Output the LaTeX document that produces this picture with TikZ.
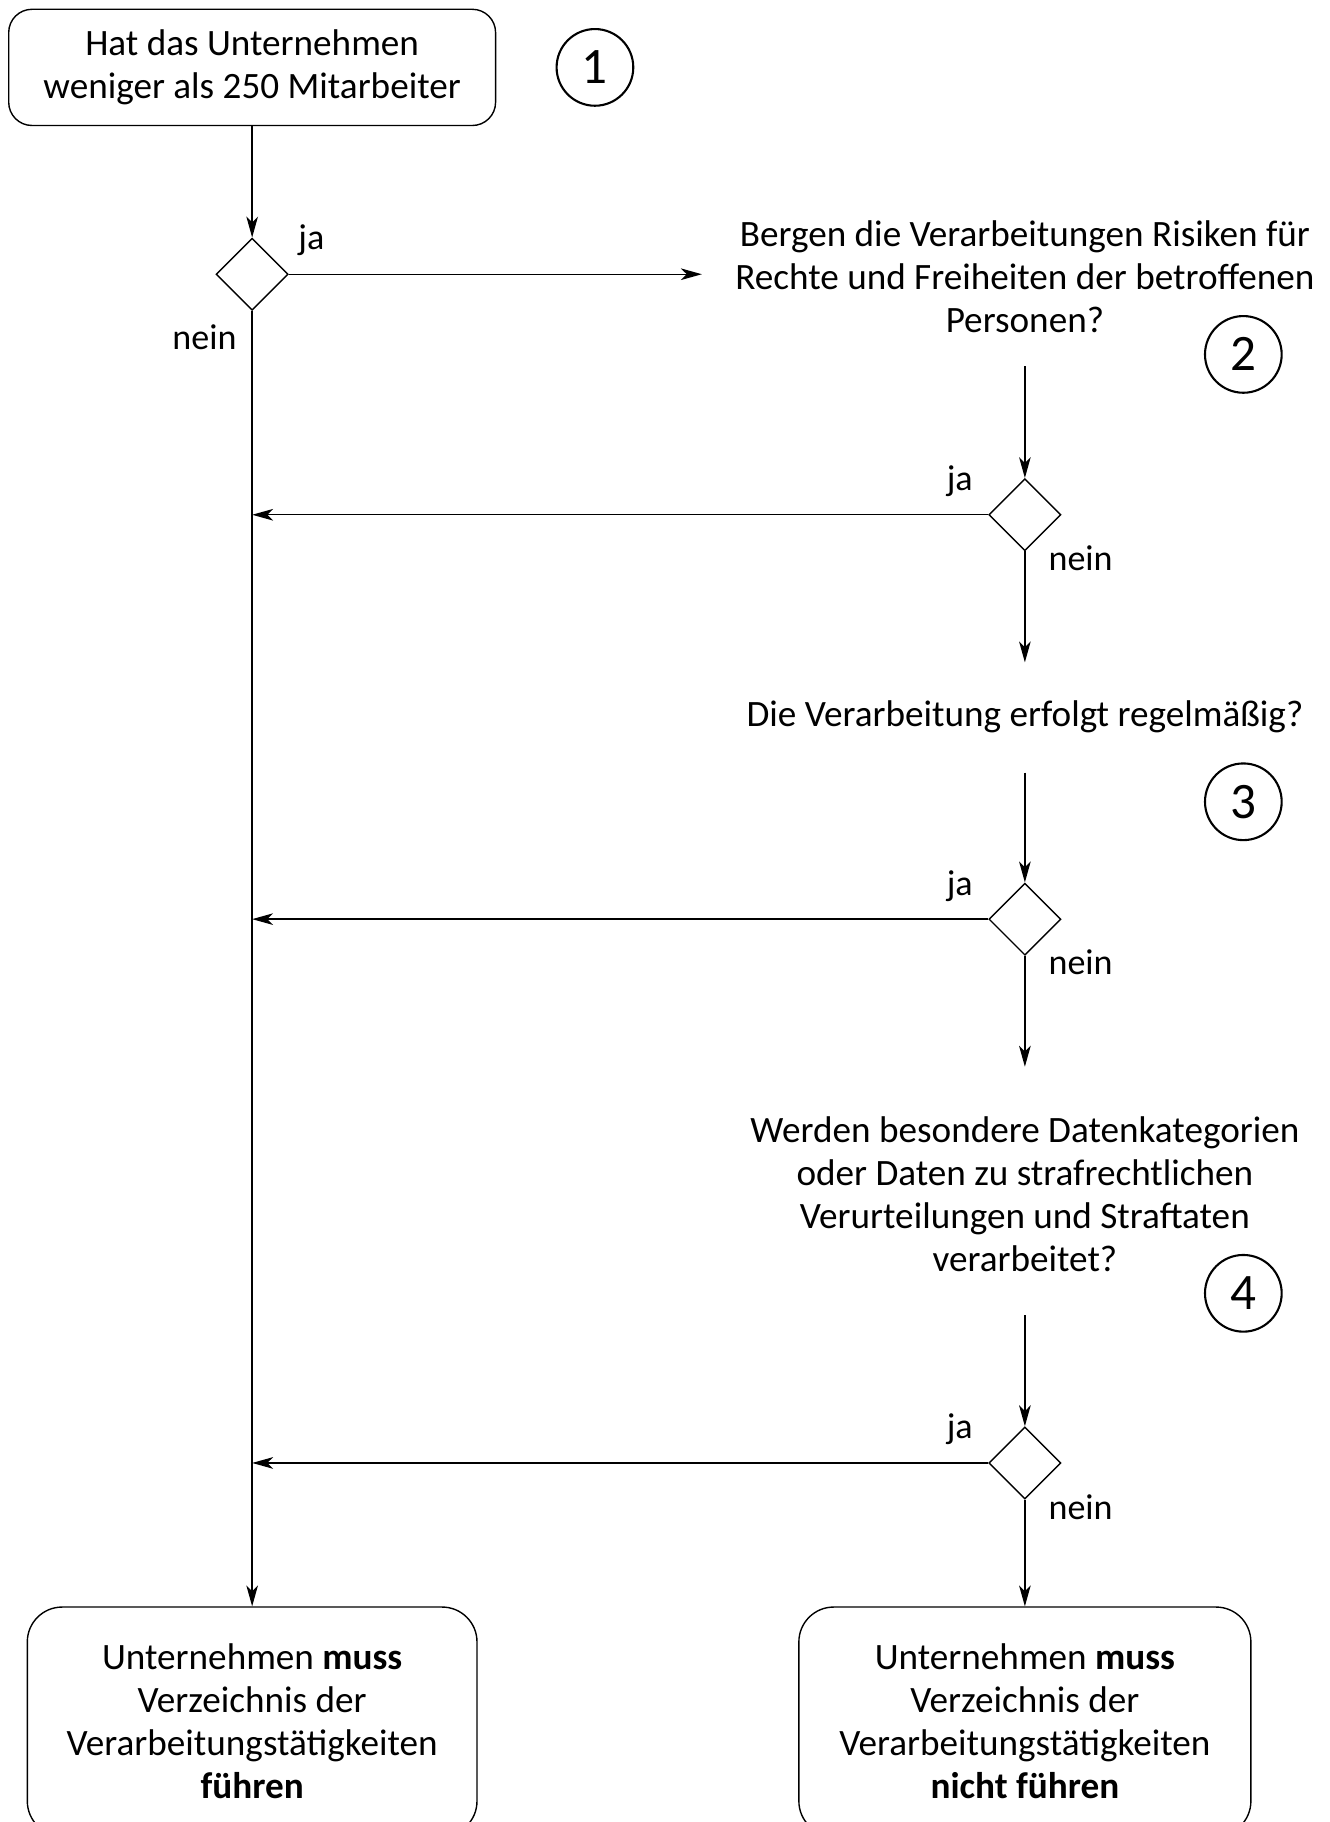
\documentclass[tikz,border=0pt]{standalone}
\usepackage{fontspec}
\setmainfont{Carlito}
\usetikzlibrary{shapes.geometric,arrows.meta}
\begin{document}
\begin{tikzpicture}[x=0.5pt,y=-0.5pt,
  txt/.style={font=\fontsize{16}{18.5}\selectfont, align=center, inner sep=0pt},
  box/.style={txt, draw, rounded corners=10pt, line width=0.6pt},
  dec/.style={draw, diamond, aspect=1, minimum width=31pt, minimum height=31pt, inner sep=0pt, line width=0.6pt},
  num/.style={draw, circle, minimum size=33pt, inner sep=0pt, line width=0.9pt, font=\fontsize{22}{26}\selectfont},
  lbl/.style={font=\fontsize{15.5}{18}\selectfont, inner sep=0pt},
  arr/.style={line width=0.6pt, -{Stealth[length=9pt,width=5pt,inset=2.5pt]}}]
\useasboundingbox (0,0) rectangle (1144,1568);
\clip (0,0) rectangle (1144,1568);
% question 1
\node[box, minimum width=209.5pt, minimum height=50pt] (q1) at (217,58) {Hat das Unternehmen\\weniger als 250 Mitarbeiter};
\node[num] (n1) at (512,58) {1};
\node[dec] (d1) at (217,236) {};
\node[lbl] (ja1) at (268,207) {ja};
\node[lbl] (nein1) at (176,290) {nein};
% question 2
\node[txt] (q2) at (882,238) {Bergen die Verarbeitungen Risiken für\\Rechte und Freiheiten der betroffenen\\Personen?};
\node[num] (n2) at (1070,305) {2};
\node[dec] (d2) at (882,443) {};
\node[lbl] (ja2) at (826,414) {ja};
\node[lbl] (nein2) at (930,480) {nein};
% question 3
\node[txt] (q3) at (882,617) {Die Verarbeitung erfolgt regelmäßig?};
\node[num] (n3) at (1070,690) {3};
\node[dec] (d3) at (882,791) {};
\node[lbl] (ja3) at (826,763) {ja};
\node[lbl] (nein3) at (930,828) {nein};
% question 4
\node[txt] (q4) at (882,1027.5) {Werden besondere Datenkategorien\\oder Daten zu strafrechtlichen\\Verurteilungen und Straftaten\\verarbeitet?};
\node[num] (n4) at (1070,1113) {4};
\node[dec] (d4) at (882,1259) {};
\node[lbl] (ja4) at (826,1230) {ja};
\node[lbl] (nein4) at (930,1297) {nein};
% results
\node[box, rounded corners=15pt, minimum width=193.5pt, minimum height=98.5pt] (bl) at (217,1481.5) {Unternehmen \textbf{muss}\\Verzeichnis der\\Verarbeitungstätigkeiten\\\textbf{führen}};
\node[box, rounded corners=15pt, minimum width=194.5pt, minimum height=98.5pt] (br) at (882,1481.5) {Unternehmen \textbf{muss}\\Verzeichnis der\\Verarbeitungstätigkeiten\\\textbf{nicht führen}};
% free ends
\coordinate (e1) at (604,236);
\coordinate (s2) at (882,315);
\coordinate (e2) at (882,570);
\coordinate (s3) at (882,665);
\coordinate (e3) at (882,918);
\coordinate (s4) at (882,1132);
% connectors
\draw[arr] (q1.south) -- (d1.north);
\draw[arr] (d1.east) -- (e1);
\draw[arr] (d1.south) -- (bl.north);
\draw[arr] (s2) -- (d2.north);
\draw[arr] (d2.west) -- (d2.west -| d1.south);
\draw[arr] (d2.south) -- (e2);
\draw[arr] (s3) -- (d3.north);
\draw[arr] (d3.west) -- (d3.west -| d1.south);
\draw[arr] (d3.south) -- (e3);
\draw[arr] (s4) -- (d4.north);
\draw[arr] (d4.west) -- (d4.west -| d1.south);
\draw[arr] (d4.south) -- (br.north);
\end{tikzpicture}
\end{document}
